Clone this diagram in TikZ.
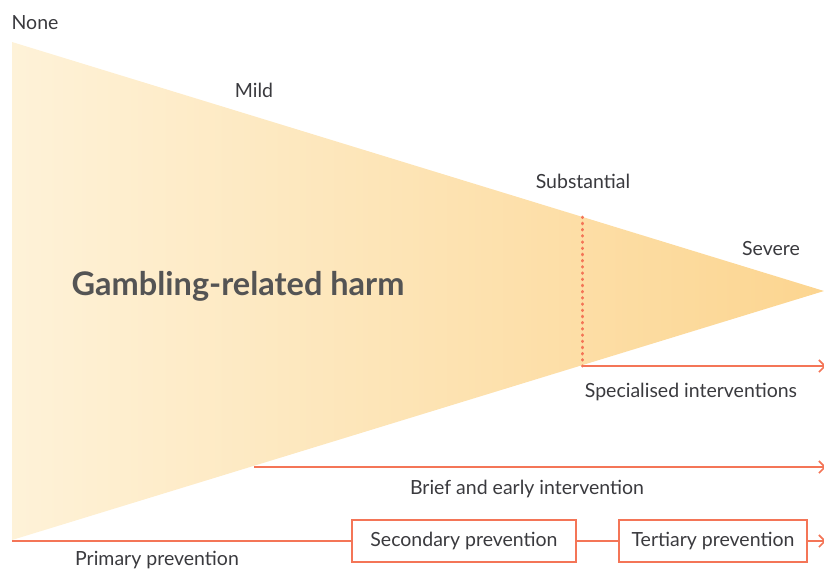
\documentclass[tikz,border=0pt]{standalone}
\usepackage{fontspec}
\setmainfont{Lato}
\usetikzlibrary{positioning, arrows.meta}
\definecolor{harmlight}{HTML}{FEF2D8}
\definecolor{harmdark}{HTML}{FCD590}
\definecolor{linered}{HTML}{F47557}
\definecolor{txtgrey}{HTML}{3A3A3E}
\definecolor{titlegrey}{HTML}{545454}

\begin{document}
\begin{tikzpicture}[
    x=1pt, y=-1pt,
    level/.style={font=\fontsize{19.5}{22}\selectfont, text=txtgrey, inner sep=0pt, anchor=base},
    tag/.style={font=\fontsize{19.5}{22}\selectfont, text=txtgrey, inner sep=0pt, anchor=base},
    box/.style={draw=linered, line width=1.4pt, minimum height=42pt, inner xsep=8pt, font=\fontsize{19.5}{22}\selectfont, text=txtgrey},
    track/.style={draw=linered, line width=1.4pt},
    tip/.style={-{Straight Barb[length=6pt, width=12pt, line width=1.6pt]}}]

\useasboundingbox (0,0) rectangle (824,570);

% Harm wedge
\shade[left color=harmlight, right color=harmdark] (12,42) -- (824,291) -- (12,540) -- cycle;
\node[font=\fontsize{32.5}{36}\bfseries\selectfont, text=titlegrey, inner sep=0pt, anchor=base] (title) at (238,295) {Gambling-related harm};

% Severity levels
\node[level] (none) at (35,29) {None};
\node[level] (mild) at (254,97) {Mild};
\node[level] (subst) at (583,188) {Substantial};
\node[level] (severe) at (771,255) {Severe};

% Threshold
\coordinate (cuttop) at (582,217);
\coordinate (cutbot) at (582,366);
\draw[linered, line width=3pt, line cap=round, dash pattern=on 0.6pt off 5.6pt] (cuttop) -- (cutbot);

% Specialised interventions
\coordinate (specend) at (826,366);
\draw[track, tip] (cutbot) -- (specend);
\node[tag] (spec) at (691,397) {Specialised interventions};

% Brief and early intervention
\coordinate (briefstart) at (254,467);
\coordinate (briefend) at (826,467);
\draw[track, tip] (briefstart) -- (briefend);
\node[tag] (brief) at (527,494) {Brief and early intervention};

% Prevention chain
\coordinate (primstart) at (12,541);
\node[box, minimum width=224pt] (second) at (464,541) {Secondary prevention};
\node[box, minimum width=188pt] (tert) at (713,541) {Tertiary prevention};
\coordinate (primend) at (826,541);
\draw[track] (primstart) -- (second.west);
\draw[track] (second.east) -- (tert.west);
\draw[track, tip] (tert.east) -- (primend);
\node[tag] (prim) at (157,565) {Primary prevention};

\end{tikzpicture}
\end{document}
